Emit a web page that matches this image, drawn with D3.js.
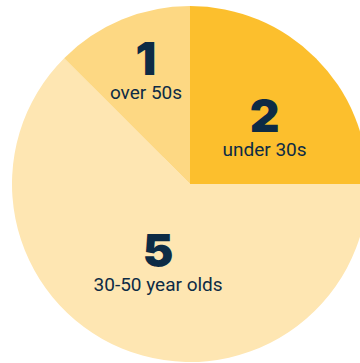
<!DOCTYPE html>
<html>
<head>
<meta charset="utf-8">
<script src="https://cdn.jsdelivr.net/npm/d3@7"></script>
<style>
  html, body { margin: 0; padding: 0; background: #ffffff; }
  svg { display: block; }
</style>
</head>
<body>
<svg id="chart" width="360" height="363"></svg>
<script>
// Age groups, in clockwise order starting at 12 o'clock
const groups = ["under 30s", "30-50 year olds", "over 50s"];
const counts = [2, 5, 1];
const colors = ["#FCBF2D", "#FEE6B2", "#FDD883"];

// Label placement around each slice (polar: radius from centre, angle nudge in degrees)
const labelRadius = [91, 89, 117.5];
const labelAngleShift = [10, -1.5, 0.5];

const width = 360, height = 363;
const cx = 190, cy = 184, radius = 178;
const textColor = "#0D2B45";

const svg = d3.select("#chart");
const g = svg.append("g").attr("transform", `translate(${cx},${cy})`);

const data = groups.map((name, i) => ({ name, value: counts[i], color: colors[i], i }));

const pie = d3.pie().value(d => d.value).sort(null);
const arc = d3.arc().innerRadius(0).outerRadius(radius);
const arcs = pie(data);

g.selectAll("path.slice")
  .data(arcs)
  .join("path")
  .attr("class", "slice")
  .attr("d", arc)
  .attr("fill", d => d.data.color);

const labels = g.selectAll("g.label")
  .data(arcs)
  .join("g")
  .attr("class", "label")
  .attr("transform", d => {
    const a = (d.startAngle + d.endAngle) / 2 + labelAngleShift[d.data.i] * Math.PI / 180;
    const r = labelRadius[d.data.i];
    return `translate(${r * Math.sin(a)},${-r * Math.cos(a)})`;
  });

labels.append("text")
  .attr("text-anchor", "middle")
  .attr("font-family", "Inter, 'Open Sans', sans-serif")
  .attr("font-weight", 900)
  .attr("font-size", 46)
  .attr("fill", textColor)
  .text(d => d.data.value);

labels.append("text")
  .attr("text-anchor", "middle")
  .attr("y", 24)
  .attr("font-family", "Roboto, sans-serif")
  .attr("font-size", 19)
  .attr("fill", textColor)
  .text(d => d.data.name);
</script>
</body>
</html>
